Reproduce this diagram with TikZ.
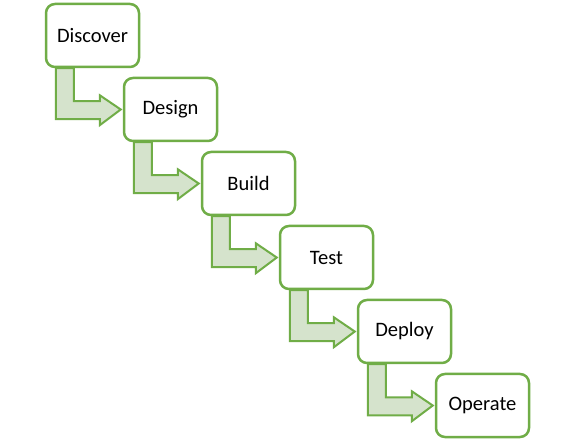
\documentclass[tikz,border=0pt]{standalone}
\usepackage{fontspec}
\setmainfont{Carlito}
\usetikzlibrary{calc,backgrounds}
\definecolor{gstroke}{HTML}{70AD47}
\definecolor{gfill}{HTML}{D5E3CC}
\begin{document}
\begin{tikzpicture}[x=1pt,y=-1pt,
  stepbox/.style={draw=gstroke, line width=2.5pt, rounded corners=9pt, fill=white,
    minimum width=93pt, minimum height=63pt, inner sep=0pt, font=\fontsize{20.5}{24}\selectfont},
  elbow/.style={draw=gstroke, line width=2pt, fill=gfill, line join=miter}]
\useasboundingbox (0,0) rectangle (574,441);
\node[stepbox] (n0) at (92.5,35.5) {Discover};
\node[stepbox] (n1) at (170.5,109.5) {Design};
\node[stepbox] (n2) at (248.5,183.5) {Build};
\node[stepbox] (n3) at (326.5,257.5) {Test};
\node[stepbox] (n4) at (404.5,331.5) {Deploy};
\node[stepbox] (n5) at (482.5,405.5) {Operate};
\begin{scope}[on background layer]
  \fill[white] (0,0) rectangle (574,441);
  \foreach \a/\b in {n0/n1,n1/n2,n2/n3,n3/n4,n4/n5}{
    \draw[elbow] ($(\a.south west)+(11,0)$) -- ++(18,0) -- ++(0,33) -- ++(26,0) -- ++(0,-6)
      -- ($(\b.west)+(-2,0)$) -- ($(\a.south west)+(55,57)$) -- ++(0,-6) -- ++(-44,0) -- cycle;
  }
\end{scope}
\end{tikzpicture}
\end{document}
